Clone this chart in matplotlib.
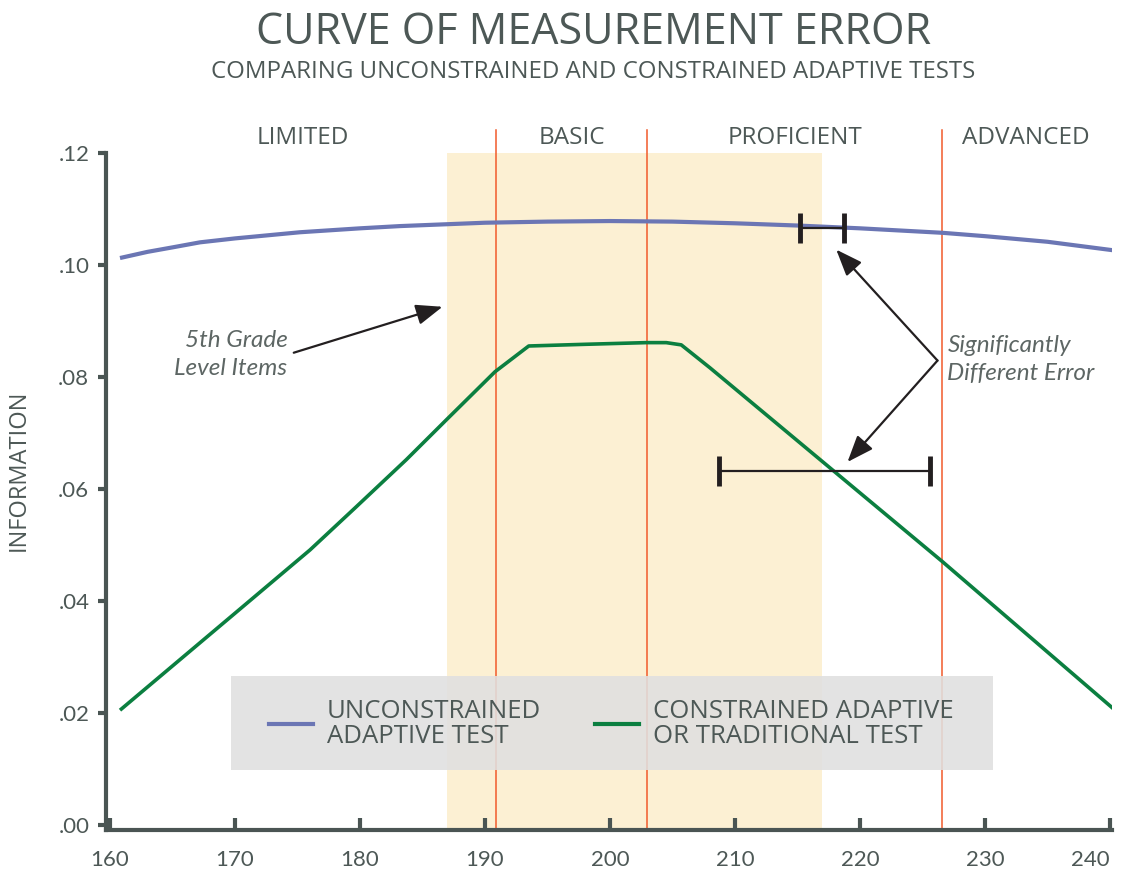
"""Curve of measurement error: unconstrained vs constrained adaptive tests."""
import matplotlib
matplotlib.use("Agg")
import matplotlib.pyplot as plt
import matplotlib.patches as mpatches
import matplotlib.transforms as mtransforms
from matplotlib.lines import Line2D

TEXT   = "#4d5856"
AXIS   = "#4a5553"
BLUE   = "#6b76b4"
GREEN  = "#0b7f40"
RED    = "#f15a2b"
BAND   = "#fcf0d3"
LEGBOX = "#e0e0e0"
INK    = "#231f20"

SANS = ["Open Sans", "DejaVu Sans"]
ITAL = ["Lato", "DejaVu Sans"]

# data
unc_x = [160.8, 163, 165, 167.2, 170, 175.2, 180, 183.2, 190, 195, 200,
         205, 210, 215, 220, 226.6, 230, 235, 240.2]
unc_y = [0.1012, 0.1023, 0.1031, 0.1040, 0.1047, 0.1058, 0.1065, 0.1069,
         0.1075, 0.1077, 0.1078, 0.1077, 0.1074, 0.1070, 0.1065, 0.1057,
         0.1051, 0.1041, 0.1026]

con_x = [160.8, 170, 176.0, 179.7, 183.7, 186.9, 190.8, 193.5, 198,
         202.9, 204.5, 205.7, 208.0, 218.0, 226.6, 240.3]
con_y = [0.0205, 0.0378, 0.0491, 0.0568, 0.0652, 0.0723, 0.0809, 0.0855,
         0.0858, 0.0861, 0.0861, 0.0857, 0.0816, 0.0630, 0.0470, 0.0207]

cut_scores = [190.9, 203.0, 226.6]
levels     = ["LIMITED", "BASIC", "PROFICIENT", "ADVANCED"]
grade_band = (187.0, 217.0)

err_x    = [216.95, 217.15]
err_y    = [0.1066, 0.0632]
err_half = [1.75, 8.45]

x_ticks = [160, 170, 180, 190, 200, 210, 220, 230, 240]
y_ticks = [0.00, 0.02, 0.04, 0.06, 0.08, 0.10, 0.12]
y_tick_labels = [".00", ".02", ".04", ".06", ".08", ".10", ".12"]

fig = plt.figure(figsize=(11.26, 8.73), dpi=100)
fig.patch.set_facecolor("white")
ax = fig.add_axes([106 / 1126, 0.0498, 1006 / 1126, 0.7753])
ax.set_xlim(159.68, 240.16)
ax.set_ylim(-0.0008, 0.12)

# grade band + cut score lines
ax.axvspan(*grade_band, color=BAND, lw=0, zorder=0)
for c in cut_scores:
    ax.axvline(c, ymin=0, ymax=1.034, color=RED, lw=1.1, zorder=1,
               clip_on=False)

# level names centred between cuts
bounds = [160] + cut_scores + [240]
trans = mtransforms.blended_transform_factory(ax.transData, ax.transAxes)
for i, name in enumerate(levels):
    ax.text((bounds[i] + bounds[i + 1]) / 2, 1.022, name, transform=trans,
            ha="center", va="center", fontsize=17.5, color=TEXT,
            family=SANS)

ax.plot(unc_x, unc_y, color=BLUE, lw=3, zorder=3, solid_capstyle="butt")
ax.plot(con_x, con_y, color=GREEN, lw=2.6, zorder=3, solid_capstyle="butt")

ax.errorbar(err_x, err_y, xerr=err_half, fmt="none", ecolor=INK,
            elinewidth=1.6, capsize=11, capthick=3.5, zorder=5)

# annotations
arrow = dict(arrowstyle="-|>,head_length=0.9,head_width=0.35", color=INK,
             lw=1.6, mutation_scale=18, shrinkA=0, shrinkB=0)
ax.text(174.2, 0.0840, "5th Grade\nLevel Items", ha="right", va="center",
        fontsize=17.5, style="italic", color="#5d6664", linespacing=1.45,
        family=ITAL)
ax.annotate("", xy=(186.6, 0.0925), xytext=(174.7, 0.0843), arrowprops=arrow)

ax.text(227.0, 0.0831, "Significantly\nDifferent Error", ha="left",
        va="center", fontsize=17.5, style="italic", color="#5d6664",
        linespacing=1.45, family=ITAL)
ax.annotate("", xy=(218.1, 0.1027), xytext=(226.2, 0.0829), arrowprops=arrow)
ax.annotate("", xy=(219.0, 0.0648), xytext=(226.2, 0.0829), arrowprops=arrow)

# legend on a grey panel
ax.add_patch(mpatches.Rectangle((0.1243, 0.0879), 0.7575, 0.1389,
                                transform=ax.transAxes, facecolor=LEGBOX,
                                edgecolor="none", alpha=0.88, zorder=6))
handles = [Line2D([], [], color=BLUE, lw=3),
           Line2D([], [], color=GREEN, lw=3)]
leg = ax.legend(handles, ["UNCONSTRAINED\nADAPTIVE TEST",
                          "CONSTRAINED ADAPTIVE\nOR TRADITIONAL TEST"],
                loc="upper left", bbox_to_anchor=(0.162, 0.193), ncol=2,
                frameon=False, handlelength=1.7, handletextpad=0.55,
                columnspacing=2.1, borderaxespad=0, borderpad=0,
                prop=dict(family=SANS, size=18.5))
leg.set_zorder(7)
for t in leg.get_texts():
    t.set_color(TEXT)
    t.set_linespacing(1.0)

# axes styling
for s in ("top", "right"):
    ax.spines[s].set_visible(False)
for s in ("left", "bottom"):
    ax.spines[s].set_color(AXIS)
    ax.spines[s].set_linewidth(3)
ax.spines["left"].set_bounds(-0.0008, 0.12)

ax.set_xticks(x_ticks)
ax.set_yticks(y_ticks)
ax.set_yticklabels(y_tick_labels)
ax.tick_params(axis="x", direction="in", length=9, width=3, color=AXIS,
               pad=15, labelsize=16, labelcolor=TEXT)
ax.tick_params(axis="y", direction="out", length=6, width=3, color=AXIS,
               pad=6, labelsize=16, labelcolor=TEXT)
for lab in ax.get_xticklabels() + ax.get_yticklabels():
    lab.set_family(["Lato", "DejaVu Sans"])
# keep the last x label inside the canvas
xlabs = ax.get_xticklabels()
xlabs[-1].set_horizontalalignment("right")
xlabs[-1].set_x(240.5)

ax.set_ylabel("INFORMATION", fontsize=17, color=TEXT, family=SANS,
              labelpad=0)
ax.yaxis.set_label_coords(-0.0745, 0.53)

fig.text(0.527, 0.962, "CURVE OF MEASUREMENT ERROR", ha="center",
         va="center", fontsize=31, color=TEXT, family=SANS)
fig.text(0.527, 0.9175, "COMPARING UNCONSTRAINED AND CONSTRAINED ADAPTIVE TESTS",
         ha="center", va="center", fontsize=17.3, color=TEXT, family=SANS)

fig.savefig("out.png", dpi=100, facecolor="white")
